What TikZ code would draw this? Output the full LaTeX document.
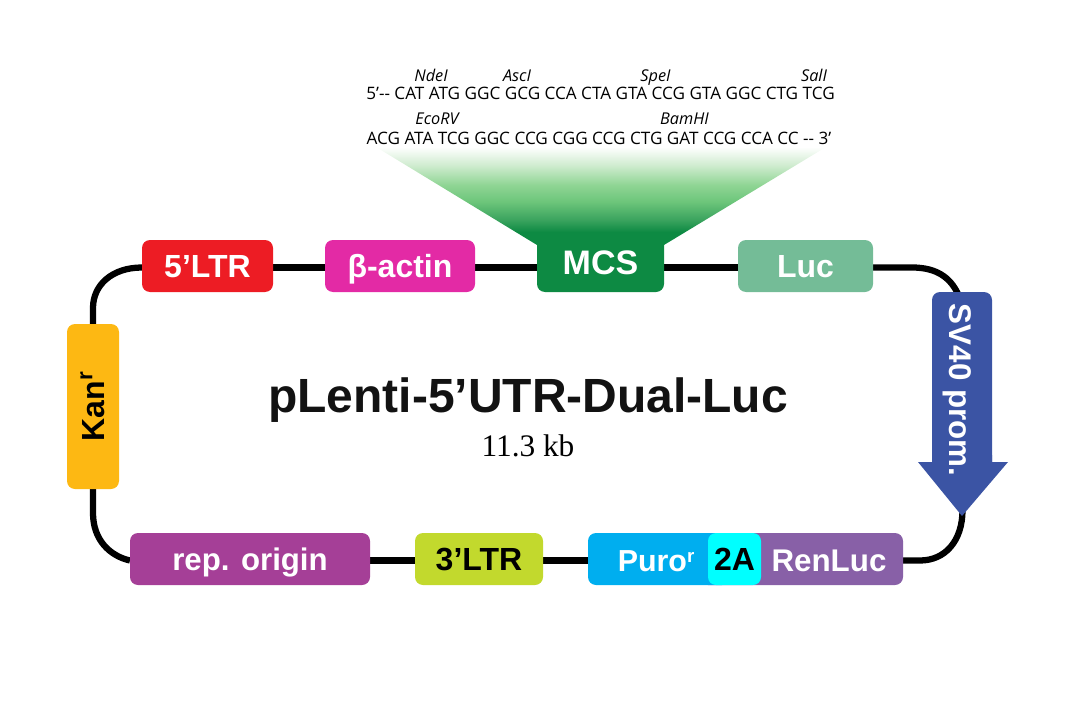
\documentclass[tikz,border=0pt]{standalone}
\usepackage{fontspec}
\setmainfont{Liberation Sans}
\newfontfamily\seqfont{Open Sans}
\newfontfamily\seriffont{Liberation Serif}
\usetikzlibrary{calc}
\pgfdeclarelayer{bg}
\pgfsetlayers{bg,main}
\definecolor{cred}{HTML}{ED1C24}
\definecolor{cpink}{HTML}{E32AA5}
\definecolor{cgreen}{HTML}{0D8A43}
\definecolor{cluc}{HTML}{74BC97}
\definecolor{cblue}{HTML}{3B54A4}
\definecolor{cpurp}{HTML}{8860A7}
\definecolor{ccyan}{HTML}{00FFFF}
\definecolor{csky}{HTML}{00AEEF}
\definecolor{clime}{HTML}{C2D92D}
\definecolor{cmag}{HTML}{A53F97}
\definecolor{cyel}{HTML}{FDB813}
\definecolor{gA}{HTML}{D0ECD0}
\definecolor{gB}{HTML}{8FD594}
\definecolor{gC}{HTML}{6CC57A}
\definecolor{gD}{HTML}{3AA35E}
\pgfdeclareverticalshading{mcsgrad}{100bp}{
 color(0bp)=(cgreen); color(31.6bp)=(cgreen); color(37.8bp)=(gD); color(47bp)=(gC); color(55.6bp)=(gB); color(65.8bp)=(gA); color(75bp)=(white); color(100bp)=(white)}
\tikzset{
 px/.style={x=0.75pt,y=-0.75pt},
 box/.style={rounded corners=6pt,inner sep=0pt,outer sep=0pt,font=\fontsize{24}{24}\selectfont\bfseries,text=white,anchor=center,text height=17.2pt,text depth=0pt},
 wire/.style={line width=4.7pt,black},
 dn/.style={yshift=-1.125pt},
 enz/.style={font=\seqfont\itshape\fontsize{12.2}{13}\selectfont,inner sep=0pt,anchor=base},
 seq/.style={font=\seqfont\fontsize{12.85}{14}\selectfont,inner sep=0pt,anchor=base},
}
\newcommand{\mkbox}[7]{% name,x1,y1,x2,y2,color,text
 \node[box,fill=#6,minimum width={(#4-#2)*0.75pt},minimum height={(#5-#3)*0.75pt}] (#1) at ({(#2+#4)/2},{(#3+#5)/2}) {#7};}
\begin{document}
\begin{tikzpicture}[px]
\useasboundingbox (0,0) rectangle (1092,706);
\path[shading=mcsgrad] (376,147) -- (826,147) -- (664,245) -- (537,245) -- cycle;
\mkbox{ltr}{142}{240}{273}{292}{cred}{5’LTR}
\mkbox{actin}{325}{240}{475}{292}{cpink}{β-actin}
\mkbox{mcs}{537}{232}{664}{292}{cgreen}{}
\node[box,font=\fontsize{25.5}{26}\selectfont\bfseries,text height=18.2pt] (mcslab) at (600.5,262.5) {MCS};
\mkbox{luc}{738}{240}{873}{292}{cluc}{Luc}
\mkbox{kan}{67}{324}{119}{489}{cyel}{}
\node[box,text=black,rotate=90] (kanlab) at (93,406.5) {Kan\textsuperscript{r}};
\mkbox{rep}{130}{533}{370}{585}{cmag}{\fontsize{23.4}{24}\selectfont rep. origin}
\mkbox{ltrb}{415}{533}{543}{585}{clime}{\textcolor{black}{3’LTR}}
\mkbox{ren}{700}{533}{903}{585}{cpurp}{}
\mkbox{puro}{588}{533}{730}{585}{csky}{}
\mkbox{twoa}{708}{533}{761}{585}{ccyan}{\textcolor{black}{2A}}
\node[box,font=\fontsize{22.8}{24}\selectfont\bfseries] (purolab) at (656,560) {Puro\raisebox{7pt}{\fontsize{14}{14}\selectfont r}};
\node[box,font=\fontsize{23.5}{24}\selectfont\bfseries] (renlab) at (829,560) {RenLuc};
% SV40 arrow
\fill[cblue,rounded corners=6pt] (932,462) -- (932,292) -- (992,292) -- (992,462);
\fill[cblue] (932,455) -- (992,455) -- (992,462) -- (1008,462) -- (962,516) -- (918,462) -- (932,462) -- cycle;
\node[box,rotate=-90,font=\fontsize{23.5}{24}\selectfont\bfseries] (sv) at (960.5,390) {SV40 prom.};
\coordinate (svtop) at (958,294);
\coordinate (svtip) at (962.5,510);
% connectors, behind the boxes
\begin{pgfonlayer}{bg}
\draw[wire] ([dn]ltr.east) -- ([dn]actin.west);
\draw[wire] ([dn]actin.east) -- ([dn]mcs.west|-actin.east);
\draw[wire] ([dn]mcs.east|-luc.west) -- ([dn]luc.west);
\draw[wire] ([dn]luc.east) -- (912,267.5) .. controls (936,267.5) and (950,277) .. (svtop);
\draw[wire] (svtip) .. controls (962.5,541) and (945,560.5) .. (920,560.5) -- ([dn]ren.east);
\draw[wire] ([dn]puro.west) -- ([dn]ltrb.east);
\draw[wire] ([dn]ltrb.west) -- ([dn]rep.east);
\draw[wire] ([dn]rep.west) .. controls (110,556) and (93,540) .. (93,513) -- (kan.south);
\draw[wire] (kan.north) -- (93,308) .. controls (93,285) and (112,267.5) .. ([dn]ltr.west);
\end{pgfonlayer}
% texts
\node[font=\fontsize{36}{36}\selectfont\bfseries,inner sep=0pt,text=black!93,text height=25.8pt,text depth=0pt] (title) at (528,394.9) {pLenti-5’UTR-Dual-Luc};
\node[font=\seriffont\fontsize{23.5}{24}\selectfont,inner sep=0pt] (size) at (528,445.5) {11.3 kb};
\node[enz] (e1) at (431,81.5) {NdeI};
\node[enz] (e2) at (517,81.5) {AscI};
\node[enz] (e3) at (655.5,81.5) {SpeI};
\node[enz] (e4) at (814,81.5) {SalI};
\node[enz] (e5) at (437,125) {EcoRV};
\node[enz] (e6) at (684.5,125) {BamHI};
\node[seq] (s1) at (600.5,100) {5’-- CAT ATG GGC GCG CCA CTA GTA CCG GTA GGC CTG TCG};
\node[seq] (s2) at (599,144.3) {ACG ATA TCG GGC CCG CGG CCG CTG GAT CCG CCA CC -- 3’};
\end{tikzpicture}
\end{document}
